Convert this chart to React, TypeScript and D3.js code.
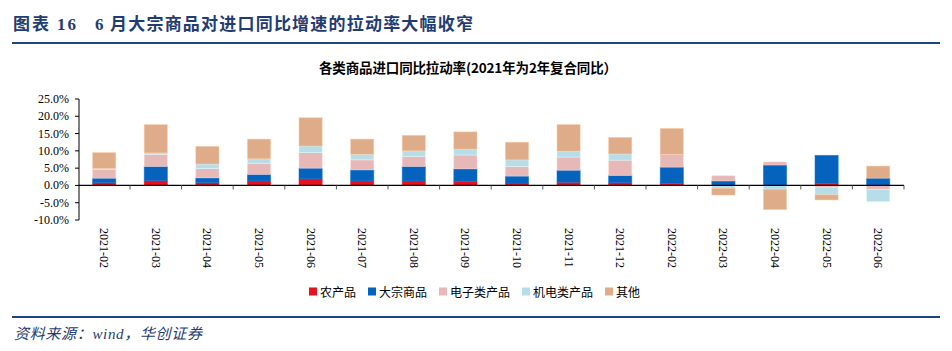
import React from "react";
import * as d3 from "d3";

const categories = [
  "2021-02", "2021-03", "2021-04", "2021-05", "2021-06", "2021-07", "2021-08", "2021-09",
  "2021-10", "2021-11", "2021-12", "2022-02", "2022-03", "2022-04", "2022-05", "2022-06",
];
const seriesNames = ["农产品", "大宗商品", "电子类产品", "机电类产品", "其他"];
const agri = [0.8, 1.4, 0.8, 1.3, 1.9, 1.3, 1.3, 1.1, 0.7, 0.9, 0.8, 0.6, 0, 0, 0.6, 0];
const bulk = [1.3, 4.1, 1.4, 1.9, 3.1, 3.2, 4.2, 3.7, 2.0, 3.5, 2.1, 4.7, 1.3, 5.9, 8.1, 2.1];
const electronic = [2.6, 3.5, 2.7, 3.2, 4.5, 2.9, 2.9, 4.0, 2.8, 3.8, 4.4, 3.7, 1.5, 0.9, -0.5, -1.2];
const mech = [0.2, 0.4, 1.3, 1.3, 1.9, 1.6, 1.6, 1.7, 1.9, 1.7, 1.8, 0, -0.8, -1.1, -2.2, -3.5];
const other = [4.6, 8.2, 5.1, 5.7, 8.2, 4.4, 4.5, 5.0, 5.1, 7.7, 4.8, 7.5, -2.0, -5.9, -1.5, 3.5];
const yTicks = [-10, -5, 0, 5, 10, 15, 20, 25];
const colors = ["#E8111F", "#0563BE", "#E6B8B7", "#B7DDE8", "#DFAC8A"];

const seriesValues = [agri, bulk, electronic, mech, other];

export default function App() {
  const W = 952;
  const H = 351;
  const x = d3.scaleBand<string>().domain(categories).range([78.4, 904]).padding(0);
  const y = d3.scaleLinear().domain([-10, 25]).range([220, 99]);

  const rows = categories.map((c, i) => {
    const r: any = { cat: c };
    seriesNames.forEach((s, k) => (r[s] = seriesValues[k][i]));
    return r;
  });
  const stacked = d3.stack<any>().keys(seriesNames).offset(d3.stackOffsetDiverging)(rows);
  const bw = x.bandwidth() * 0.45;

  const serif = "'Liberation Serif', 'Times New Roman', 'Noto Sans CJK SC', serif";
  const legendX = [309, 368, 439, 522, 605];

  return (
    <div style={{ position: "absolute", left: 0, top: 0 }}>
      <svg width={W} height={H} style={{ display: "block", background: "#fff" }}>
        {/* Title */}
        <text x={13} y={30} fontFamily={serif} fontWeight="bold" fontSize={17} fill="#1F3C73"
          textLength={63} lengthAdjust="spacing">图表 16</text>
        <text x={95} y={30} fontFamily={serif} fontWeight="bold" fontSize={17} fill="#1F3C73">6</text>
        <text x={110} y={30} fontFamily={serif} fontWeight="bold" fontSize={17} fill="#1F3C73"
          textLength={363} lengthAdjust="spacing">月大宗商品对进口同比增速的拉动率大幅收窄</text>
        <rect x={12} y={42} width={928} height={2} fill="#1B4585" />

        {/* Subtitle */}
        <text x={468} y={73} textAnchor="middle" fontFamily="'Noto Sans CJK SC', sans-serif"
          fontWeight="bold" fontSize={13.5} fill="#000" textLength={298} lengthAdjust="spacing">
          各类商品进口同比拉动率(2021年为2年复合同比）
        </text>

        {/* Bars */}
        {stacked.map((s, k) => (
          <g key={s.key} fill={colors[k]}>
            {s.map((d, i) => {
              const y0 = y(d[0]);
              const y1 = y(d[1]);
              const h = Math.abs(y0 - y1);
              if (h < 0.01) return null;
              return (
                <rect key={i}
                  x={(x(categories[i]) as number) + (x.bandwidth() - bw) / 2}
                  y={Math.min(y0, y1)} width={bw} height={h}
                  stroke={d3.color(colors[k])!.brighter(0.5).toString()} strokeWidth={0.8}
                  strokeOpacity={0.6} />
              );
            })}
          </g>
        ))}

        {/* Y axis */}
        <line x1={79} x2={79} y1={y(25)} y2={y(-10)} stroke="#000" strokeWidth={1} />
        {yTicks.map((t) => (
          <g key={t}>
            <line x1={75} x2={79} y1={y(t)} y2={y(t)} stroke="#000" strokeWidth={1} />
            <text x={69} y={y(t)} textAnchor="end" dominantBaseline="central"
              fontFamily={serif} fontSize={12} fill="#000">{t.toFixed(1)}%</text>
          </g>
        ))}

        {/* X axis */}
        <line x1={78.4} x2={904} y1={y(0)} y2={y(0)} stroke="#000" strokeWidth={1.3} />
        {categories.map((c) => (
          <line key={"t" + c} x1={(x(c) as number) + x.bandwidth()} x2={(x(c) as number) + x.bandwidth()}
            y1={y(0)} y2={y(0) + 4} stroke="#555" strokeWidth={1} />
        ))}
        {categories.map((c) => {
          const cx = (x(c) as number) + x.bandwidth() / 2;
          return (
            <text key={"l" + c} transform={`translate(${cx},228) rotate(90)`}
              dominantBaseline="central" fontFamily={serif} fontSize={12} fill="#000">{c}</text>
          );
        })}

        {/* Legend */}
        {seriesNames.map((s, k) => (
          <g key={"lg" + s}>
            <rect x={legendX[k]} y={287.5} width={8} height={8} fill={colors[k]} />
            <text x={legendX[k] + 11} y={291.5} dominantBaseline="central"
              fontFamily="'Noto Sans CJK SC', sans-serif" fontSize={12} fill="#000">{s}</text>
          </g>
        ))}

        {/* Footer */}
        <rect x={12} y={316} width={928} height={2} fill="#1B4585" />
        <text x={14} y={339} fontFamily={serif} fontStyle="italic" fontSize={15} fill="#1F3C73"
          textLength={188} lengthAdjust="spacing">资料来源：wind，华创证券</text>
      </svg>
    </div>
  );
}
